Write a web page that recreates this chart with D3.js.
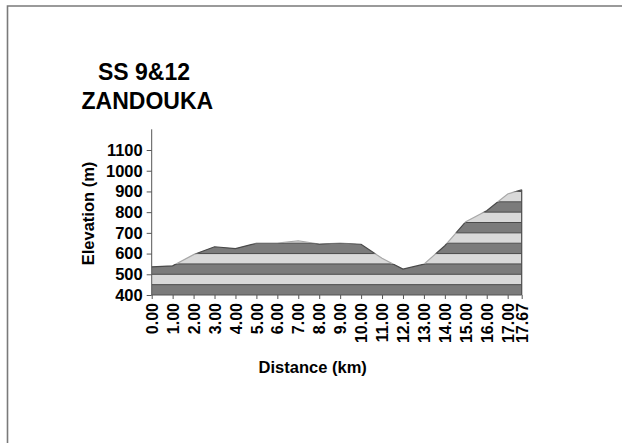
<!DOCTYPE html>
<html>
<head>
<meta charset="utf-8">
<script src="https://cdn.jsdelivr.net/npm/d3@7"></script>
<style>
  html, body { margin: 0; padding: 0; background: #fff; }
  svg { display: block; }
  text { font-family: "Liberation Sans", Arial, sans-serif; font-weight: bold; fill: #000; }
</style>
</head>
<body>
<svg id="chart" width="622" height="443"></svg>
<script>
// ---- data ----
const titleLines = ["SS 9&12", "ZANDOUKA"];
const distance = [0, 1, 2, 3, 4, 5, 6, 7, 8, 9, 10, 11, 12, 13, 14, 15, 16, 17, 17.67];
const elevation = [536, 541, 595, 633, 624, 650, 650, 662, 646, 651, 645, 577, 525, 549, 638, 754, 807, 888, 908];
const elevTicks = [400, 500, 600, 700, 800, 900, 1000, 1100];
const distTicks = [0, 1, 2, 3, 4, 5, 6, 7, 8, 9, 10, 11, 12, 13, 14, 15, 16, 17, 17.67];
const bandLows = [400, 450, 500, 550, 600, 650, 700, 750, 800, 850, 900];
const bandStep = 50;
const xTitle = "Distance (km)";
const yTitle = "Elevation (m)";

const profile = distance.map((d, i) => ({ km: d, m: elevation[i] }));

const svg = d3.select("#chart");

// frame
svg.append("path")
  .attr("d", "M7.5,443 L7.5,6 L622,6")
  .attr("fill", "none").attr("stroke", "#7a7a7a").attr("stroke-width", 1.6);

const x = d3.scaleLinear().domain([0, 17.67]).range([151.7, 521.7]);
const y = d3.scaleLinear().domain([400, 1200]).range([295, 129.3]);

// clip for area under profile
const defs = svg.append("defs");
const area = d3.area().x(d => x(d.km)).y0(y(400)).y1(d => y(d.m));
defs.append("clipPath").attr("id", "under")
  .append("path").attr("d", area(profile));

bandLows.forEach((lo, i) => {
  defs.append("clipPath").attr("id", "band" + i)
    .append("rect")
    .attr("x", x(0) - 2).attr("width", x(17.67) - x(0) + 4)
    .attr("y", y(lo + bandStep)).attr("height", y(lo) - y(lo + bandStep));
});

const dark = (i) => i % 2 === 0;
const g = svg.append("g");

// band fills
g.append("g").attr("clip-path", "url(#under)")
  .selectAll("rect").data(bandLows).join("rect")
  .attr("x", x(0)).attr("width", x(17.67) - x(0))
  .attr("y", d => y(d + bandStep)).attr("height", d => y(d) - y(d + bandStep))
  .attr("fill", (d, i) => dark(i) ? "#7b7b7b" : "#d9d9d9");

// band boundary lines
g.append("g").attr("clip-path", "url(#under)")
  .selectAll("line").data(bandLows.slice(1)).join("line")
  .attr("x1", x(0)).attr("x2", x(17.67))
  .attr("y1", d => y(d)).attr("y2", d => y(d))
  .attr("stroke", "#4a4a4a").attr("stroke-width", 1);

// profile outline, coloured per band
const line = d3.line().x(d => x(d.km)).y(d => y(d.m));
bandLows.forEach((lo, i) => {
  g.append("path")
    .attr("clip-path", "url(#band" + i + ")")
    .attr("d", line(profile))
    .attr("fill", "none")
    .attr("stroke", dark(i) ? "#4a4a4a" : "#a8a8a8")
    .attr("stroke-width", 1.2);
});

// right edge
const last = profile[profile.length - 1];
g.append("line")
  .attr("x1", x(last.km)).attr("x2", x(last.km))
  .attr("y1", y(400)).attr("y2", y(last.m))
  .attr("stroke", "#4a4a4a").attr("stroke-width", 1.2);

// axes
const yAxis = d3.axisLeft(y).tickValues(elevTicks).tickSize(5).tickPadding(4).tickFormat(d3.format("d"));
const yG = svg.append("g").attr("transform", `translate(${x(0)},0)`).call(yAxis);
yG.select(".domain").attr("stroke", "#555").attr("d", `M-0,${y(400)}V${y(1200)}`);
yG.selectAll(".tick line").attr("stroke", "#555");
yG.selectAll(".tick text").style("font-size", "16.5px").style("font-family", '"Liberation Sans", Arial, sans-serif').style("font-weight", "bold").attr("fill", "#000");

const xAxis = d3.axisBottom(x).tickValues(distTicks).tickSize(4).tickFormat(d3.format(".2f"));
const xG = svg.append("g").attr("transform", `translate(0,${y(400)})`).call(xAxis);
xG.select(".domain").attr("stroke", "#555").attr("d", `M${x(0)},0H${x(17.67)}`);
xG.selectAll(".tick line").attr("stroke", "#555");
xG.selectAll(".tick text")
  .style("font-size", "16px").style("font-family", '"Liberation Sans", Arial, sans-serif').style("font-weight", "bold").attr("fill", "#000")
  .attr("text-anchor", "end")
  .attr("transform", "rotate(-90)")
  .attr("x", -8).attr("y", 0).attr("dy", "0.35em");

// titles
svg.append("text").attr("x", 98).attr("y", 80).style("font-size", "23px").text(titleLines[0]);
svg.append("text").attr("x", 81.5).attr("y", 109).style("font-size", "23px").text(titleLines[1]);

svg.append("text").attr("x", 312.7).attr("y", 373).attr("text-anchor", "middle")
  .style("font-size", "16.5px").text(xTitle);
svg.append("text").attr("transform", `translate(94,213.5) rotate(-90)`).attr("text-anchor", "middle")
  .style("font-size", "16.5px").text(yTitle);
</script>
</body>
</html>
